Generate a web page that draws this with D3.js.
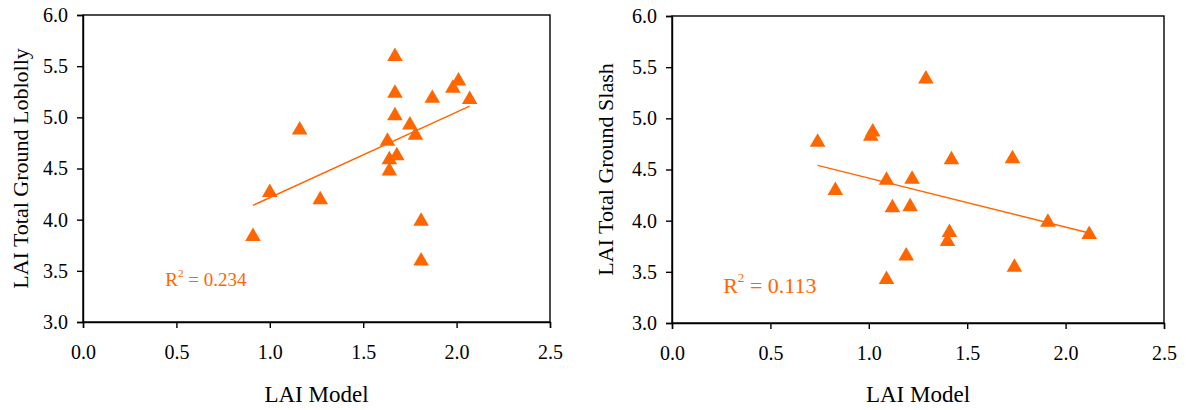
<!DOCTYPE html>
<html>
<head>
<meta charset="utf-8">
<script src="https://cdn.jsdelivr.net/npm/d3@7"></script>
<style>
  html, body { margin: 0; padding: 0; background: #fff; }
  svg { display: block; }
  text { font-family: "Liberation Serif", "Times New Roman", serif; }
</style>
</head>
<body>
<svg id="chart" width="1186" height="410"></svg>
<script>
// ---- data ----
const xTickValues = [0.0, 0.5, 1.0, 1.5, 2.0, 2.5];
const yTickValues = [3.0, 3.5, 4.0, 4.5, 5.0, 5.5, 6.0];

const loblollyX = [1.67, 1.67, 1.67, 1.87, 1.98, 2.01, 2.07, 1.16, 1.75, 1.78, 1.63, 1.68, 1.64, 1.64, 1.00, 1.27, 0.91, 1.81, 1.81];
const loblollyY = [5.61, 5.25, 5.03, 5.20, 5.30, 5.37, 5.19, 4.89, 4.94, 4.84, 4.78, 4.64, 4.60, 4.49, 4.28, 4.21, 3.85, 4.00, 3.61];
const loblollyTrendX = [0.91, 2.07];
const loblollyTrendY = [4.14, 5.11];

const slashX = [1.29, 1.01, 1.02, 0.74, 1.42, 1.73, 1.09, 1.22, 0.83, 1.12, 1.21, 1.91, 2.12, 1.41, 1.40, 1.19, 1.74, 1.09];
const slashY = [5.40, 4.84, 4.88, 4.78, 4.61, 4.62, 4.41, 4.42, 4.31, 4.14, 4.15, 4.00, 3.88, 3.90, 3.81, 3.67, 3.56, 3.44];
const slashTrendX = [0.74, 2.12];
const slashTrendY = [4.54, 3.88];

const panels = [
  { yTitle: "LAI Total Ground Loblolly", xs: loblollyX, ys: loblollyY, tx: loblollyTrendX, ty: loblollyTrendY,
    r2: "0.234", r2Val: [0.44, 3.35] },
  { yTitle: "LAI Total Ground Slash", xs: slashX, ys: slashY, tx: slashTrendX, ty: slashTrendY,
    r2: "0.113", r2Val: [0.26, 3.29] }
];

// ---- layout ----
const layout = [
  { left: 83, right: 550, top: 15, bottom: 322, yTitleX: 28, r2Size: 19 },
  { left: 672, right: 1164, top: 16, bottom: 323, yTitleX: 613, r2Size: 22 }
];
const orange = "#FF6600";
const serif = '"Liberation Serif", "Times New Roman", serif';
const svg = d3.select("#chart");
const fmt = d3.format(".1f");

panels.forEach((p, i) => {
  const L = layout[i];
  const x = d3.scaleLinear().domain([0, 2.5]).range([L.left, L.right]);
  const y = d3.scaleLinear().domain([3, 6]).range([L.bottom, L.top]);
  const g = svg.append("g");

  // frame
  g.append("rect")
    .attr("x", L.left).attr("y", L.top)
    .attr("width", L.right - L.left).attr("height", L.bottom - L.top)
    .attr("fill", "none").attr("stroke", "#000").attr("stroke-width", 1.4);

  const xAxis = g.append("g").attr("transform", `translate(0,${L.bottom})`)
    .call(d3.axisBottom(x).tickValues(xTickValues).tickFormat(fmt).tickSize(6).tickPadding(17));
  const yAxis = g.append("g").attr("transform", `translate(${L.left},0)`)
    .call(d3.axisLeft(y).tickValues(yTickValues).tickFormat(fmt).tickSize(6).tickPadding(9));
  [xAxis, yAxis].forEach(a => {
    a.attr("font-family", serif).attr("font-size", 20);
    a.select(".domain").attr("stroke", "#000").attr("stroke-width", 1.4);
    a.selectAll(".tick line").attr("stroke", "#000").attr("stroke-width", 1.4);
    a.selectAll(".tick text").attr("fill", "#000")
      .attr("font-family", serif).attr("font-size", 20);
  });

  // axis titles
  g.append("text")
    .attr("x", (L.left + L.right) / 2).attr("y", 402)
    .attr("text-anchor", "middle").style("font-size", "23px").attr("fill", "#000")
    .text("LAI Model");
  g.append("text")
    .attr("transform", `translate(${L.yTitleX},${(L.top + L.bottom) / 2}) rotate(-90)`)
    .attr("text-anchor", "middle").style("font-size", "22px").attr("fill", "#000")
    .text(p.yTitle);

  // trend line
  const line = d3.line().x(d => x(d[0])).y(d => y(d[1]));
  g.append("path")
    .datum(p.tx.map((v, k) => [v, p.ty[k]]))
    .attr("d", line).attr("fill", "none").attr("stroke", orange).attr("stroke-width", 1.4);

  // markers
  const tri = d3.symbol().type(d3.symbolTriangle).size(105);
  g.selectAll("path.pt")
    .data(p.xs.map((v, k) => [v, p.ys[k]]))
    .join("path").attr("class", "pt")
    .attr("d", tri())
    .attr("transform", d => `translate(${x(d[0])},${y(d[1]) + 1.5})`)
    .attr("fill", orange);

  // R² label
  const t = g.append("text")
    .attr("x", x(p.r2Val[0])).attr("y", y(p.r2Val[1]))
    .attr("fill", orange).style("font-size", L.r2Size + "px");
  t.append("tspan").text("R");
  t.append("tspan").attr("dy", -L.r2Size * 0.5).style("font-size", (L.r2Size * 0.6) + "px").text("2");
  t.append("tspan").attr("dy", L.r2Size * 0.5).text(" = " + p.r2);
});
</script>
</body>
</html>
